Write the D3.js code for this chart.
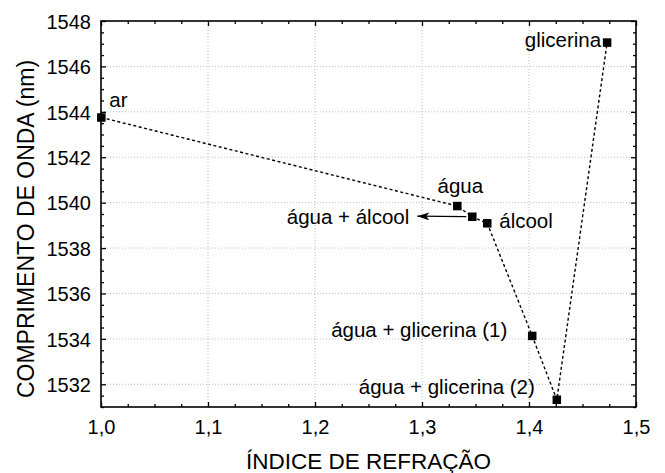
<!DOCTYPE html>
<html>
<head>
<meta charset="utf-8">
<script src="https://cdn.jsdelivr.net/npm/d3@7"></script>
<style>
  html, body { margin: 0; padding: 0; background: #fff; }
  svg text { font-family: "Liberation Sans", Arial, Helvetica, sans-serif; fill: #000; }
</style>
</head>
<body>
<svg id="chart" width="665" height="473"></svg>
<script>
// ---- data ----
const labels = ["ar", "água", "água + álcool", "álcool", "água + glicerina (1)", "água + glicerina (2)", "glicerina"];
const refractiveIndex = [1.0003, 1.333, 1.347, 1.361, 1.403, 1.426, 1.473];
const wavelength = [1543.75, 1539.85, 1539.38, 1539.09, 1534.13, 1531.32, 1547.05];
const xTicks = [1.0, 1.1, 1.2, 1.3, 1.4, 1.5];
const yTicks = [1532, 1534, 1536, 1538, 1540, 1542, 1544, 1546, 1548];
const xTitle = "ÍNDICE DE REFRAÇÃO";
const yTitle = "COMPRIMENTO DE ONDA (nm)";

// ---- layout / style (not data) ----
const W = 665, H = 473;
const margin = { left: 101, top: 21, right: 29, bottom: 66 };
const labelStyle = [
  { anchor: "start",  dx: 8,   dy: -11 },
  { anchor: "middle", dx: 3,   dy: -13 },
  { anchor: "end",    dx: -63, dy: 7.5, arrow: true },
  { anchor: "start",  dx: 12,  dy: 5 },
  { anchor: "end",    dx: -25, dy: 1 },
  { anchor: "end",    dx: -22, dy: -6 },
  { anchor: "end",    dx: -6,  dy: 4 }
];

const svg = d3.select("#chart");
const iw = W - margin.left - margin.right;
const ih = H - margin.top - margin.bottom;

const x = d3.scaleLinear().domain([1.0, 1.5]).range([margin.left, margin.left + iw]);
const y = d3.scaleLinear().domain([1531, 1548]).range([margin.top + ih, margin.top]);

const xMinor = d3.range(1.0, 1.5001, 0.025).filter(v => Math.abs(v * 10 - Math.round(v * 10)) > 1e-6);
const yMinor = d3.range(1531, 1548.001, 0.5).filter(v => Math.abs(v / 2 - Math.round(v / 2)) > 1e-6);

const fmtX = d => d.toFixed(1).replace(".", ",");

// grid
const grid = svg.append("g");
grid.selectAll("line.gx").data(xTicks.slice(1, -1)).join("line")
  .attr("x1", d => x(d)).attr("x2", d => x(d))
  .attr("y1", margin.top).attr("y2", margin.top + ih)
  .attr("stroke", "#bdbdbd").attr("stroke-width", 1).attr("stroke-dasharray", "1,2");
grid.selectAll("line.gy").data(yTicks.filter(v => v < 1548)).join("line")
  .attr("x1", margin.left).attr("x2", margin.left + iw)
  .attr("y1", d => y(d)).attr("y2", d => y(d))
  .attr("stroke", "#bdbdbd").attr("stroke-width", 1).attr("stroke-dasharray", "1,2");

function styleAxis(g) {
  g.select(".domain").remove();
  g.selectAll(".tick line").attr("stroke", "#000").attr("stroke-width", 1.3);
}

// bottom axis
const gB = svg.append("g").attr("transform", `translate(0,${margin.top + ih})`);
gB.call(d3.axisBottom(x).tickValues(xTicks).tickFormat(fmtX).tickSize(-5).tickPadding(13));
gB.call(styleAxis);
gB.selectAll(".tick text").attr("font-size", 20);
svg.append("g").attr("transform", `translate(0,${margin.top + ih})`)
  .call(d3.axisBottom(x).tickValues(xMinor).tickFormat("").tickSize(-3)).call(styleAxis);

// top axis
svg.append("g").attr("transform", `translate(0,${margin.top})`)
  .call(d3.axisTop(x).tickValues(xTicks).tickFormat("").tickSize(-5)).call(styleAxis);
svg.append("g").attr("transform", `translate(0,${margin.top})`)
  .call(d3.axisTop(x).tickValues(xMinor).tickFormat("").tickSize(-3)).call(styleAxis);

// left axis
const gL = svg.append("g").attr("transform", `translate(${margin.left},0)`);
gL.call(d3.axisLeft(y).tickValues(yTicks).tickFormat(d3.format("d")).tickSize(-5).tickPadding(10));
gL.call(styleAxis);
gL.selectAll(".tick text").attr("font-size", 20).attr("dy", "0.36em");
svg.append("g").attr("transform", `translate(${margin.left},0)`)
  .call(d3.axisLeft(y).tickValues(yMinor).tickFormat("").tickSize(-3)).call(styleAxis);

// right axis
svg.append("g").attr("transform", `translate(${margin.left + iw},0)`)
  .call(d3.axisRight(y).tickValues(yTicks).tickFormat("").tickSize(-5)).call(styleAxis);
svg.append("g").attr("transform", `translate(${margin.left + iw},0)`)
  .call(d3.axisRight(y).tickValues(yMinor).tickFormat("").tickSize(-3)).call(styleAxis);

// frame
svg.append("rect").attr("x", margin.left).attr("y", margin.top)
  .attr("width", iw).attr("height", ih)
  .attr("fill", "none").attr("stroke", "#000").attr("stroke-width", 1.6);

// data
const pts = refractiveIndex.map((v, i) => ({ x: v, y: wavelength[i], label: labels[i], s: labelStyle[i] }));

svg.append("path").datum(pts)
  .attr("d", d3.line().x(d => x(d.x)).y(d => y(d.y)))
  .attr("fill", "none").attr("stroke", "#000").attr("stroke-width", 1.4)
  .attr("stroke-dasharray", "3,2.5");

const ms = 8.5;
svg.selectAll("rect.pt").data(pts).join("rect")
  .attr("x", d => x(d.x) - ms / 2).attr("y", d => y(d.y) - ms / 2)
  .attr("width", ms).attr("height", ms).attr("fill", "#000");

// arrow marker
svg.append("defs").append("marker")
  .attr("id", "ah").attr("viewBox", "0 0 12 8").attr("refX", 12).attr("refY", 4)
  .attr("markerWidth", 12).attr("markerHeight", 8).attr("markerUnits", "userSpaceOnUse")
  .attr("orient", "auto")
  .append("path").attr("d", "M0,0 L12,4 L0,8 L3,4 Z").attr("fill", "#000");

svg.selectAll("line.arrow").data(pts.filter(d => d.s.arrow)).join("line")
  .attr("x1", d => x(d.x) - 6).attr("y1", d => y(d.y))
  .attr("x2", d => x(d.x) - 55).attr("y2", d => y(d.y) - 0.5)
  .attr("stroke", "#000").attr("stroke-width", 1.3)
  .attr("marker-end", "url(#ah)");

svg.selectAll("text.lbl").data(pts).join("text")
  .attr("x", d => x(d.x) + d.s.dx).attr("y", d => y(d.y) + d.s.dy)
  .attr("text-anchor", d => d.s.anchor)
  .attr("font-size", 20.5)
  .text(d => d.label);

// titles
svg.append("text").attr("x", margin.left + iw / 2).attr("y", 469)
  .attr("text-anchor", "middle").attr("font-size", 22.5).text(xTitle);
svg.append("text").attr("transform", "translate(34,229) rotate(-90)")
  .attr("text-anchor", "middle").attr("font-size", 23).text(yTitle);
</script>
</body>
</html>
